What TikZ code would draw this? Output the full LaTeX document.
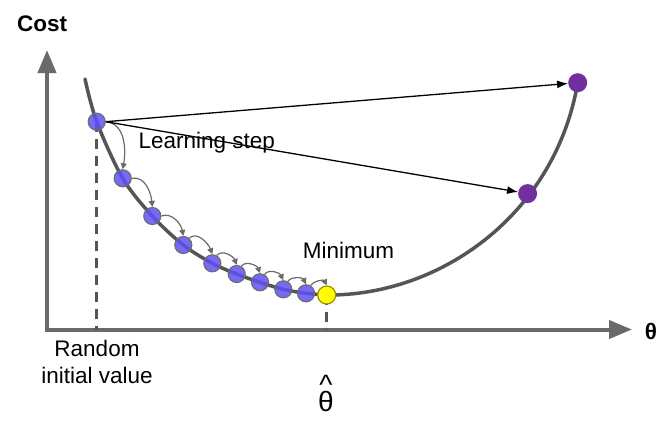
\documentclass[tikz,border=0pt]{standalone}
\usepackage{fontspec}
\setmainfont{Liberation Sans}
\usetikzlibrary{arrows.meta}
\definecolor{axisgray}{HTML}{6A6A6A}
\definecolor{curvegray}{HTML}{555555}
\definecolor{dotblue}{HTML}{5F50F2}
\definecolor{dotborder}{HTML}{6E6E6E}
\definecolor{minyellow}{HTML}{FFFF00}
\definecolor{minborder}{HTML}{A08C00}
\definecolor{dotpurple}{HTML}{7030A0}
\tikzset{
  axisline/.style={draw=axisgray, line width=4pt, line join=miter,
    {Triangle[length=23pt,width=18pt,fill=axisgray]}-{Triangle[length=23pt,width=18pt,fill=axisgray]}},
  costcurve/.style={draw=curvegray, line width=3.5pt, line cap=round},
  guide/.style={draw=curvegray, line width=2.6pt, dash pattern=on 10pt off 7pt},
  bluedot/.style={circle, minimum size=17pt, inner sep=0pt, fill=dotblue, fill opacity=0.85, draw=dotborder, line width=1.2pt},
  mindot/.style={circle, minimum size=18pt, inner sep=0pt, fill=minyellow, draw=minborder, line width=1.2pt},
  purpledot/.style={circle, minimum size=19pt, inner sep=0pt, fill=dotpurple},
  steparrow/.style={draw=axisgray, line width=1.2pt, -{Triangle[length=6pt,width=6pt]}},
  bigstep/.style={draw=black, line width=1.3pt, -{Latex[length=11pt,width=8pt]}},
  lbl/.style={font=\fontsize{22.5}{27}\selectfont, inner sep=0pt},
}
\begin{document}
\begin{tikzpicture}[x=1pt,y=-1pt]
\useasboundingbox (0,0) rectangle (666,420);
% axes
\coordinate (o) at (47,329.5);
\coordinate (ytip) at (47,50);
\coordinate (xtip) at (632,329.5);
\draw[axisline] (ytip) -- (o) -- (xtip);
\node[lbl, font=\fontsize{22.5}{27}\selectfont\bfseries, anchor=base west] (cost) at (17,31.5) {Cost};
\node[lbl, font=\fontsize{22.5}{27}\selectfont\bfseries] (theta) at (651,331.5) {θ};
% dots positions
\coordinate (c1) at (96.7,121.7);
\coordinate (cmin) at (326.7,295);
\coordinate (ctop) at (577.7,82.7);
% curve
\draw[costcurve] plot[smooth, tension=0.55] coordinates {
  (85,79) (96.7,121.7) (122.7,178.3) (152.3,216) (183.3,245) (212.3,263.3)
  (236.7,274) (260,282.3) (283.3,289.3) (306,293.3) (326.7,295)};
\draw[costcurve] (cmin) .. controls (440,296) and (555,215) .. (ctop);
% guides
\draw[guide] (c1) -- (c1 |- o);
\draw[guide] (cmin) -- (cmin |- o);
% dots
\node[bluedot] (d1) at (c1) {};
\node[bluedot] (d2) at (122.7,178.3) {};
\node[bluedot] (d3) at (152.3,216) {};
\node[bluedot] (d4) at (183.3,245) {};
\node[bluedot] (d5) at (212.3,263.3) {};
\node[bluedot] (d6) at (236.7,274) {};
\node[bluedot] (d7) at (260,282.3) {};
\node[bluedot] (d8) at (283.3,289.3) {};
\node[bluedot] (d9) at (306,293.3) {};
\node[mindot] (dmin) at (cmin) {};
\node[purpledot] (p1) at (ctop) {};
\node[purpledot] (p2) at (527.6,193.6) {};
% small learning steps
\draw[steparrow] (d1.east) to[out=-5,in=80] (d2.north);
\draw[steparrow] (d2.east) to[out=10,in=95] (d3.north);
\draw[steparrow] (d3.east) to[out=20,in=100] (d4.north);
\draw[steparrow] (d4.50) to[out=40,in=110] (d5.north);
\draw[steparrow] (d5.60) to[out=50,in=110] (d6.north);
\draw[steparrow] (d6.60) to[out=50,in=110] (d7.north);
\draw[steparrow] (d7.60) to[out=55,in=115] (d8.north);
\draw[steparrow] (d8.60) to[out=55,in=115] (d9.north);
\draw[steparrow] (d9.60) to[out=55,in=115] (dmin.north);
% big steps
\draw[bigstep] (d1.east) -- (p1);
\draw[bigstep] (d1.east) -- (p2);
% labels
\node[lbl, anchor=base west] (learn) at (138.3,148.3) {Learning step};
\node[lbl, anchor=base west] (minlbl) at (302.7,258.3) {Minimum};
\node[lbl, align=center, anchor=north] (rand) at (97,339.5) {Random\\initial value};
\node[lbl, font=\fontsize{28}{30}\selectfont, anchor=base] (thetahat) at (326,411.5)
  {\ooalign{θ\cr\hidewidth\raisebox{17pt}{\textasciicircum}\hidewidth\cr}};
\end{tikzpicture}
\end{document}
